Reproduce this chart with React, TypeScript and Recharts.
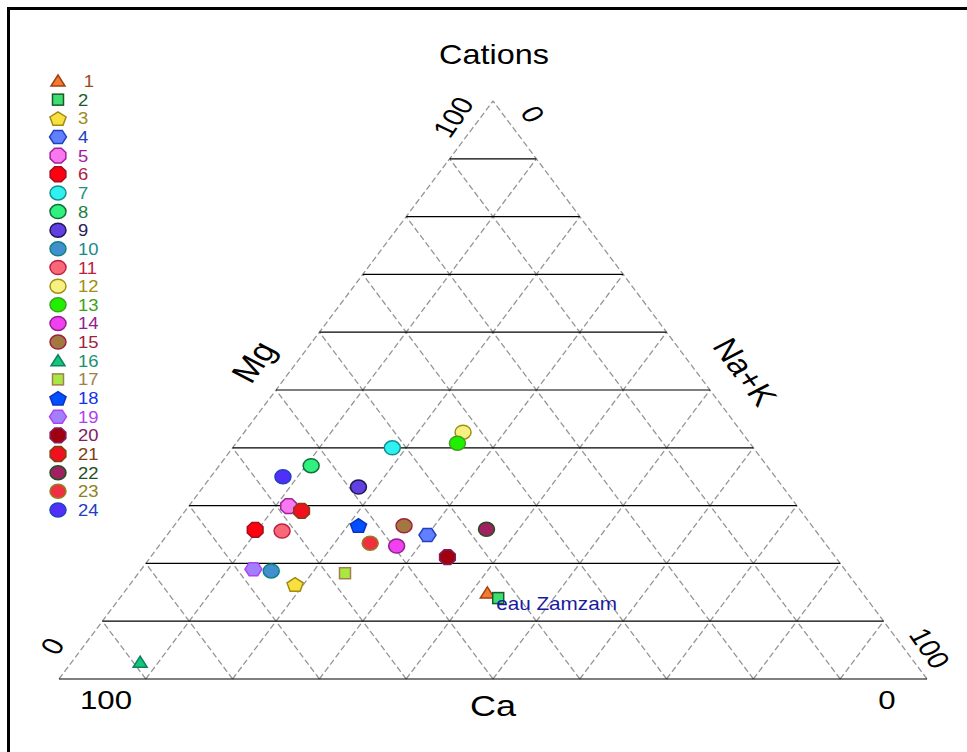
import React from 'react';
import { ScatterChart, Scatter, XAxis, YAxis, ReferenceLine, Legend } from 'recharts';

// samples (cations, % of meq)
const sampleIds = ['1', '2', '3', '4', '5', '6', '7', '8', '9', '10', '11', '12', '13', '14', '15', '16', '17', '18', '19', '20', '21', '22', '23', '24'];
const caValues = [43.2, 42.4, 64.6, 45.1, 58.6, 64.5, 41.6, 52.5, 48.9, 66.2, 61.5, 32.1, 33.7, 49.6, 47.0, 89.2, 57.9, 52.2, 68.1, 44.7, 57.5, 37.8, 52.4, 56.7];
const mgValues = [14.9, 14.0, 16.4, 24.9, 29.9, 25.8, 40.0, 36.9, 33.2, 18.7, 25.6, 42.7, 40.8, 23.0, 26.5, 2.9, 18.3, 26.6, 19.0, 21.1, 29.1, 25.9, 23.5, 35.0];
const nakValues = [41.9, 43.6, 19.0, 30.0, 11.5, 9.7, 18.4, 10.6, 17.9, 15.1, 12.9, 25.2, 25.5, 27.4, 26.5, 7.9, 23.8, 21.2, 12.9, 34.2, 13.4, 36.3, 24.1, 8.3];
const notes = ['', 'eau Zamzam', '', '', '', '', '', '', '', '', '', '', '', '', '', '', '', '', '', '', '', '', '', ''];
const gridLevels = [10, 20, 30, 40, 50, 60, 70, 80, 90];
const sideLevels = [0, 10, 20, 30, 40, 50, 60, 70, 80, 90];

// marker styles
const markerKinds = ['triangle', 'square', 'pentagon', 'hexagon', 'octagon', 'octagon', 'circle', 'circle', 'circle', 'circle', 'circle', 'circle', 'circle', 'circle', 'circle', 'triangle', 'square', 'pentagon', 'hexagon', 'octagon', 'octagon', 'circle', 'circle', 'circle'];
const fills = ['#f47a30', '#3de070', '#f8e040', '#6080ff', '#f878f0', '#ff0010', '#30f0f0', '#30f080', '#6040e0', '#4090d0', '#f86878', '#f8f080', '#20f000', '#f040f0', '#a07840', '#10c878', '#a8e840', '#0050ff', '#a080ff', '#a00010', '#f01020', '#a02060', '#f03040', '#5030f8'];
const strokes = ['#a04010', '#1a5a2a', '#a08a10', '#2040c0', '#a020a0', '#a01020', '#109090', '#10703a', '#201850', '#108080', '#c02040', '#a09010', '#40a020', '#902090', '#a02040', '#108060', '#a08050', '#1030c0', '#b040f0', '#802060', '#804010', '#205020', '#908020', '#2040c0'];
const textColors = ['#9a4a1a', '#1e5a2e', '#9a8a20', '#2040c0', '#a020a0', '#b02040', '#209080', '#208040', '#2a1a5a', '#208a8a', '#c02040', '#a09010', '#40a020', '#902090', '#a02040', '#209070', '#a08050', '#1030f0', '#b040f0', '#802060', '#804010', '#205020', '#908020', '#2040c0'];

const FONT = '"Liberation Sans", Arial, sans-serif';
const SX = 1.2; // the source picture is stretched sideways

// ternary -> cartesian (Ca bottom-left, Na+K bottom-right, Mg apex)
const tern = (mg: number, nak: number) => ({ x: (nak + mg / 2) / 100, y: mg / 100 });

const rows = sampleIds.map((id, i) => ({
    id,
    ca: caValues[i],
    mg: mgValues[i],
    nak: nakValues[i],
    note: notes[i],
    ...tern(mgValues[i], nakValues[i]),
}));

function poly(cx: number, cy: number, n: number, rx: number, ry: number, rot: number) {
    const pts: string[] = [];
    for (let k = 0; k < n; k++) {
        const a = rot + (k * 2 * Math.PI) / n;
        pts.push(`${cx + rx * Math.cos(a)},${cy + ry * Math.sin(a)}`);
    }
    return pts.join(' ');
}

function Marker({ kind, cx, cy, fill, stroke }: { kind: string, cx: number, cy: number, fill: string, stroke: string }) {
    const common = { fill, stroke, strokeWidth: 1.5 };
    if (kind === 'triangle') return <polygon points={`${cx},${cy - 6} ${cx + 7},${cy + 5} ${cx - 7},${cy + 5}`} {...common} />;
    if (kind === 'square') return <rect x={cx - 5.5} y={cy - 5.5} width={11} height={11} {...common} />;
    if (kind === 'pentagon') return <polygon points={poly(cx, cy + 1, 5, 8.5, 7.5, -Math.PI / 2)} {...common} />;
    if (kind === 'hexagon') return <polygon points={poly(cx, cy, 6, 8.5, 7.5, 0)} {...common} />;
    if (kind === 'octagon') return <polygon points={poly(cx, cy, 8, 8.5, 8, Math.PI / 8)} {...common} />;
    return <ellipse cx={cx} cy={cy} rx={8} ry={7} {...common} />;
}

// text drawn as if the figure were stretched sideways
function SText({ x, y, angle = 0, size, children, color = '#000', dy = 0 }: any) {
    return (
        <text transform={`translate(${x},${y}) scale(${SX},1) rotate(${angle})`} y={dy} fontSize={size}
            textAnchor="middle" fill={color} fontFamily={FONT}>{children}</text>
    );
}

function LegendBox() {
    return (
        <svg width={70} height={450}>
            {sampleIds.map((id, i) => {
                const y = 9 + i * 18.65;
                return (
                    <g key={id}>
                        <Marker kind={markerKinds[i]} cx={14} cy={y} fill={fills[i]} stroke={strokes[i]} />
                        <text transform={`translate(34,${y + 6}) scale(1.15,1)`} fontSize={16} fill={textColors[i]} fontFamily={FONT}
                            x={i === 0 ? 5 : 0}>{id}</text>
                    </g>
                );
            })}
        </svg>
    );
}

export default function App() {
    const gridStroke = '#959595';
    return (
        <div style={{ position: 'absolute', left: 0, top: 0, width: 967, height: 752, background: '#fff', overflow: 'hidden' }}>
            <div style={{ position: 'absolute', left: 7, top: 7, right: -10, bottom: -10, borderLeft: '3px solid #000', borderTop: '3px solid #000' }} />
            <ScatterChart width={967} height={752} margin={{ left: 59, right: 40, top: 101, bottom: 73 }} style={{ position: 'absolute', left: 0, top: 0 }}>
                <XAxis type="number" dataKey="x" domain={[0, 1]} hide />
                <YAxis type="number" dataKey="y" domain={[0, 1]} hide />

                {/* constant Na+K lines (parallel to Mg side) */}
                {sideLevels.map(v => (
                    <ReferenceLine key={'n' + v} ifOverflow="visible" stroke={gridStroke} strokeWidth={1.3} strokeDasharray="6 3"
                        segment={[tern(0, v), tern(100 - v, v)]} />
                ))}
                {/* constant Ca lines (parallel to Na+K side) */}
                {sideLevels.map(v => (
                    <ReferenceLine key={'c' + v} ifOverflow="visible" stroke={gridStroke} strokeWidth={1.3} strokeDasharray="6 3"
                        segment={[tern(0, 100 - v), tern(100 - v, 0)]} />
                ))}
                {/* constant Mg lines */}
                {gridLevels.map(v => (
                    <ReferenceLine key={'m' + v} ifOverflow="visible" stroke="#000" strokeWidth={1.2}
                        segment={[tern(v, 0), tern(v, 100 - v)]} />
                ))}
                <ReferenceLine ifOverflow="visible" stroke="#000" strokeWidth={1.2} segment={[tern(0, 0), tern(0, 100)]} />

                {rows.map((r, i) => (
                    <Scatter key={r.id} name={r.id} data={[r]} isAnimationActive={false}
                        shape={(p: any) => (
                            <g>
                                <Marker kind={markerKinds[i]} cx={p.cx} cy={p.cy} fill={fills[i]} stroke={strokes[i]} />
                                {p.payload && p.payload.note ? (
                                    <text transform={`translate(${p.cx - 2},${p.cy + 12}) scale(1.15,1)`} fontSize={18}
                                        fill="#1a1aa0" fontFamily={FONT}>{p.payload.note}</text>
                                ) : null}
                            </g>
                        )} />
                ))}

                <Legend layout="horizontal" verticalAlign="middle" content={() => <LegendBox />}
                    wrapperStyle={{ left: 44, top: 72, width: 70, height: 450 }} />
            </ScatterChart>

            <svg width={967} height={752} style={{ position: 'absolute', left: 0, top: 0, pointerEvents: 'none' }}>
                <SText x={494} y={64} size={27}>Cations</SText>
                <SText x={493} y={716} size={30}>Ca</SText>
                <SText x={106} y={709} size={26}>100</SText>
                <SText x={887} y={709} size={26}>0</SText>
                <SText x={254} y={362} angle={-58} size={30} dy={10}>Mg</SText>
                <SText x={745} y={372} angle={58} size={29} dy={10}>Na+K</SText>
                <SText x={453} y={117} angle={-60} size={25} dy={9}>100</SText>
                <SText x={533} y={114} angle={60} size={25} dy={9}>0</SText>
                <SText x={52} y={646} angle={-60} size={25} dy={9}>0</SText>
                <SText x={930} y={648} angle={60} size={25} dy={9}>100</SText>
            </svg>
        </div>
    );
}
